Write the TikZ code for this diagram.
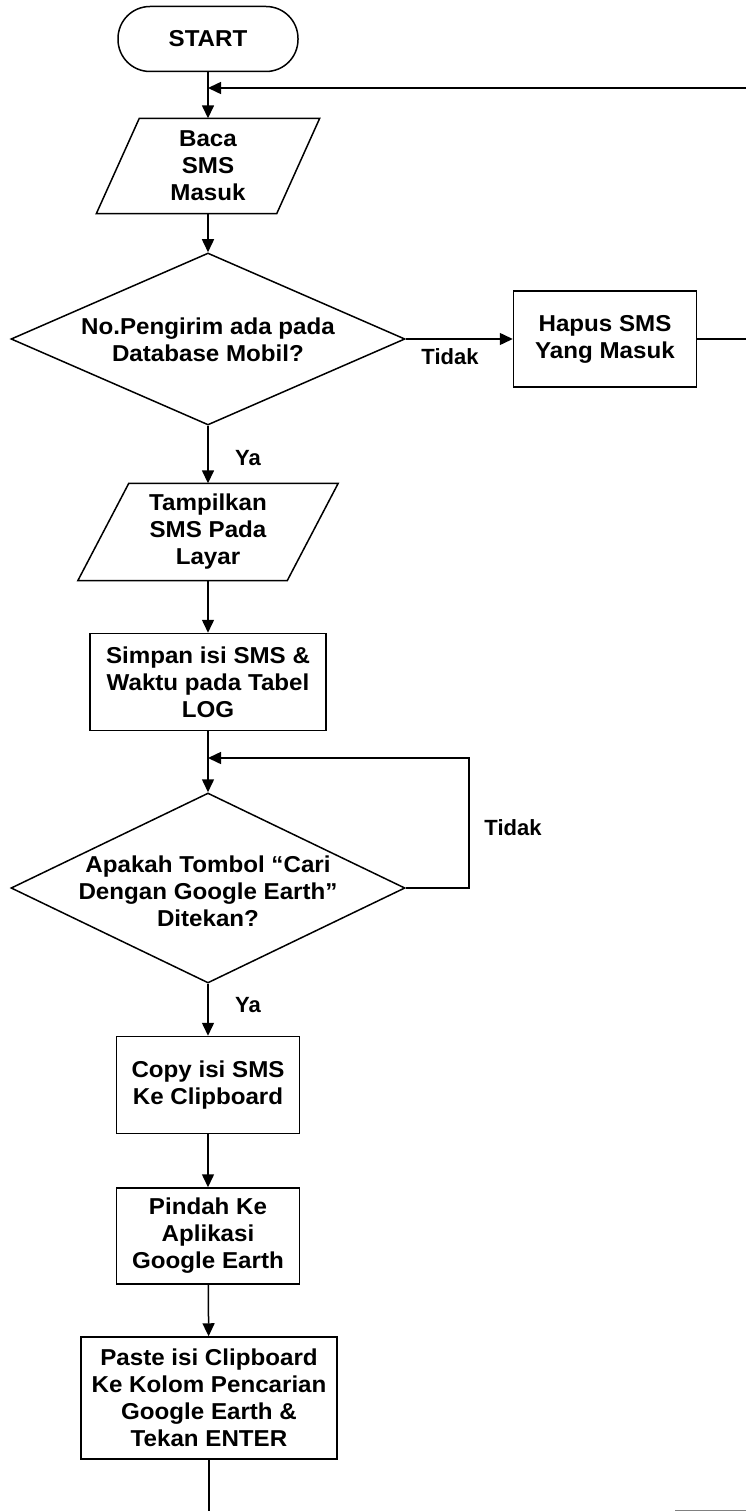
\documentclass[tikz,border=0pt]{standalone}
\usepackage{fontspec}
\setmainfont{Liberation Sans}
\newfontfamily\boxfont{Liberation Sans}[FakeStretch=1.05, Ligatures=TeX]
\usetikzlibrary{shapes.geometric,arrows.meta}
\begin{document}
\begin{tikzpicture}[x=1pt,y=-1pt,
  lbl/.style={font=\boxfont\fontsize{23}{27}\selectfont\bfseries, align=center},
  proc/.style={draw, line width=1.5pt, lbl, inner sep=0pt},
  io/.style={lbl, inner sep=0pt},
  dec/.style={diamond, draw, line width=1.5pt, inner sep=0pt},
  term/.style={draw, line width=1.5pt, rounded corners=32pt, lbl, inner sep=0pt},
  ln/.style={line width=1.5pt},
  arr/.style={line width=1.5pt, -{Triangle[length=13pt,width=12pt]}},
  side/.style={font=\fontsize{22}{26}\selectfont\bfseries}]
\useasboundingbox (0,0) rectangle (746,1511);
\clip (0,0) rectangle (746,1511);

\node[term, minimum width=180pt, minimum height=65pt] (start) at (208,39) {START};
\coordinate (j1) at (208,88);

\node[io, minimum width=180pt, minimum height=95pt] (baca) at (208,166) {Baca\\SMS\\Masuk};
\draw[ln] ([xshift=21.5pt]baca.north west) -- ([xshift=21.5pt]baca.north east)
  -- ([xshift=-21.5pt]baca.south east) -- ([xshift=-21.5pt]baca.south west) -- cycle;

\node[dec, minimum width=394pt, minimum height=172pt,
  label={[lbl, yshift=-1pt]center:No.Pengirim ada pada\\Database Mobil?}] (d1) at (208,339) {};

\node[proc, minimum width=183pt, minimum height=96pt] (hapus) at (605,339) {Hapus SMS\\Yang Masuk};
\coordinate (r1) at (758,339);
\coordinate (r2) at (758,88);

\node[io, minimum width=209pt, minimum height=97pt] (tampil) at (208,532) {Tampilkan\\SMS Pada\\Layar};
\draw[ln] ([xshift=25.5pt]tampil.north west) -- ([xshift=25.5pt]tampil.north east)
  -- ([xshift=-25.5pt]tampil.south east) -- ([xshift=-25.5pt]tampil.south west) -- cycle;

\node[proc, minimum width=236pt, minimum height=97pt] (simpan) at (208,682) {Simpan isi SMS \&\\Waktu pada Tabel\\LOG};

\coordinate (j2) at (208,758);
\node[dec, minimum width=394pt, minimum height=190pt,
  label={[lbl, yshift=-3pt]center:Apakah Tombol “Cari\\Dengan Google Earth”\\Ditekan?}] (d2) at (208,888) {};
\coordinate (l1) at (469,888);
\coordinate (l2) at (469,758);

\node[proc, minimum width=183pt, minimum height=97pt] (copy) at (208,1085) {Copy isi SMS\\Ke Clipboard};
\node[proc, minimum width=183pt, minimum height=96pt] (pindah) at (208,1236) {Pindah Ke\\Aplikasi\\Google Earth};
\node[proc, minimum width=256pt, minimum height=122pt] (paste) at (209,1398) {Paste isi Clipboard\\Ke Kolom Pencarian\\Google Earth \&\\Tekan ENTER};
\coordinate (bot) at (209,1520);
\coordinate (b1) at (675,1511);
\coordinate (b2) at (760,1511);

% connectors
\draw[arr] (start) -- (baca);
\draw[arr] (hapus.east) -- (r1) -- (r2) -- (j1);
\draw[arr] (baca) -- (d1);
\draw[arr] (d1.east) -- (hapus.west);
\node[side] (tidak1) at (450,357) {Tidak};
\draw[arr] (d1) -- (tampil);
\node[side] (ya1) at (248,458) {Ya};
\draw[arr] (tampil) -- (simpan);
\draw[arr] (simpan) -- (d2);
\draw[arr] (d2.east) -- (l1) -- (l2) -- (j2);
\node[side] (tidak2) at (513,828) {Tidak};
\draw[arr] (d2) -- (copy);
\node[side] (ya2) at (248,1005) {Ya};
\draw[arr] (copy) -- (pindah);
\draw[arr] (pindah) -- (paste);
\draw[ln] (paste) -- (bot);
\draw[ln, gray] (b1) -- (b2);
\end{tikzpicture}
\end{document}
